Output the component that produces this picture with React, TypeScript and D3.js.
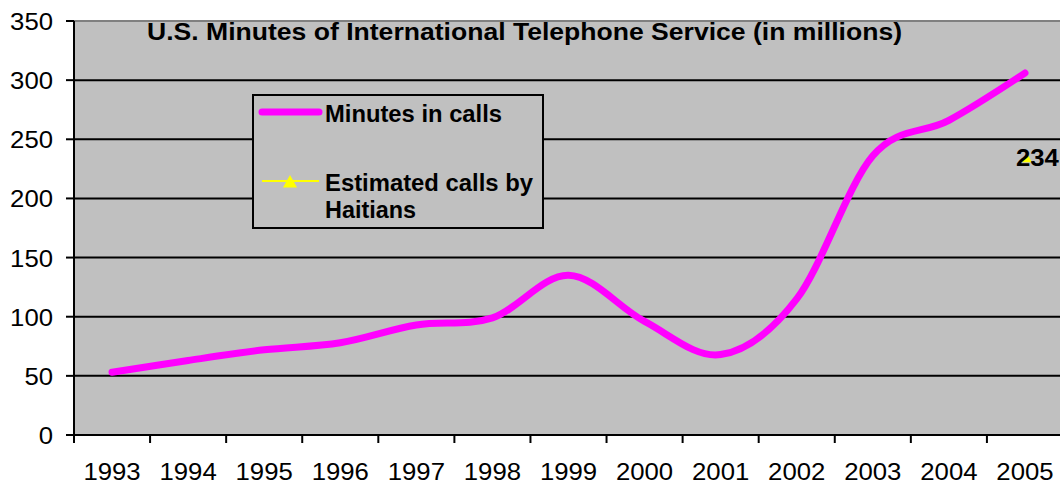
import React from "react";
import * as d3 from "d3";

const years = ["1993","1994","1995","1996","1997","1998","1999","2000","2001","2002","2003","2004","2005"];
const minutes = [53, 63, 72, 78, 93, 99, 135, 96, 68, 115, 236, 266, 306];
const haitians: (number | null)[] = [null, null, null, null, null, null, null, null, null, null, null, null, 234];
const yTicks = [0, 50, 100, 150, 200, 250, 300, 350];
const title = "U.S. Minutes of International Telephone Service (in millions)";
const legendLabels = ["Minutes in calls", "Estimated calls by", "Haitians"];

const W = 1060, H = 485;
const L = 74, T = 21, B = 435, R = 1063;
const FONT = "'Liberation Sans', Arial, sans-serif";
const DIGIT = 14.3; // stretched digit advance at 23px

export default function App() {
  const x = d3.scaleBand<string>().domain(years).range([L, R]);
  const y = d3.scaleLinear().domain([0, 350]).range([B, T]);
  const cx = (yr: string) => (x(yr) as number) + x.bandwidth() / 2;
  const line = d3.line<number>()
    .x((_, i) => cx(years[i]))
    .y((d) => y(d))
    .curve(d3.curveCardinal.tension(0));
  const hPts = haitians
    .map((v, i) => ({ v, yr: years[i] }))
    .filter((d) => d.v !== null) as { v: number; yr: string }[];
  const tri = (px: number, py: number, s: number) =>
    `M${px},${py - s}L${px + s},${py + s * 0.8}L${px - s},${py + s * 0.8}Z`;

  return (
    <svg width={W} height={H} style={{ position: "absolute", left: 0, top: 0, background: "#fff" }} fontFamily={FONT}>
      <rect x={L} y={T} width={R - L} height={B - T} fill="#C0C0C0" />
      <line x1={L} x2={R} y1={T} y2={T} stroke="#808080" strokeWidth={2} />
      {yTicks.filter((t) => t > 0 && t < 350).map((t) => (
        <line key={t} x1={L} x2={R} y1={y(t)} y2={y(t)} stroke="#000" strokeWidth={2} />
      ))}
      <line x1={L} x2={L} y1={T} y2={B} stroke="#000" strokeWidth={2} />
      <line x1={L - 1} x2={R} y1={B} y2={B} stroke="#000" strokeWidth={2} />
      {yTicks.map((t) => (
        <g key={t}>
          <line x1={L - 8} x2={L} y1={y(t)} y2={y(t)} stroke="#000" strokeWidth={2} />
          <text x={53} y={y(t) + 9} fontSize={23} textAnchor="end" fill="#000"
            textLength={String(t).length * DIGIT} lengthAdjust="spacingAndGlyphs">{t}</text>
        </g>
      ))}
      {years.map((yr) => (
        <g key={yr}>
          <line x1={x(yr) as number} x2={x(yr) as number} y1={B} y2={B + 8} stroke="#000" strokeWidth={2} />
          <text x={cx(yr)} y={480} fontSize={23} textAnchor="middle" fill="#000"
            textLength={yr.length * DIGIT} lengthAdjust="spacingAndGlyphs">{yr}</text>
        </g>
      ))}
      <text x={147} y={39.5} fontSize={23} fontWeight="bold" fill="#000"
        textLength={755} lengthAdjust="spacingAndGlyphs">{title}</text>
      <path d={line(minutes) || ""} fill="none" stroke="#FF00FF" strokeWidth={7} strokeLinecap="round" strokeLinejoin="round" />
      {hPts.map((d) => (
        <g key={d.yr}>
          <path d={tri(cx(d.yr) + 2, y(d.v), 5)} fill="#FFFF00" />
          <text x={1016} y={y(d.v) + 8} fontSize={23} fontWeight="bold" fill="#000"
            textLength={String(d.v).length * 14.3} lengthAdjust="spacingAndGlyphs">{d.v}</text>
        </g>
      ))}
      <rect x={253} y={95} width={290} height={133} fill="#C0C0C0" stroke="#000" strokeWidth={2} />
      <line x1={262} x2={319} y1={112} y2={112} stroke="#FF00FF" strokeWidth={7} strokeLinecap="round" />
      <text x={325} y={122.3} fontSize={23} fontWeight="bold" fill="#000"
        textLength={177} lengthAdjust="spacingAndGlyphs">{legendLabels[0]}</text>
      <line x1={262} x2={319} y1={181} y2={181} stroke="#FFFF00" strokeWidth={2} />
      <path d={tri(290, 182, 7)} fill="#FFFF00" />
      <text x={325} y={191} fontSize={23} fontWeight="bold" fill="#000"
        textLength={208} lengthAdjust="spacingAndGlyphs">{legendLabels[1]}</text>
      <text x={325} y={218} fontSize={23} fontWeight="bold" fill="#000"
        textLength={91} lengthAdjust="spacingAndGlyphs">{legendLabels[2]}</text>
    </svg>
  );
}
